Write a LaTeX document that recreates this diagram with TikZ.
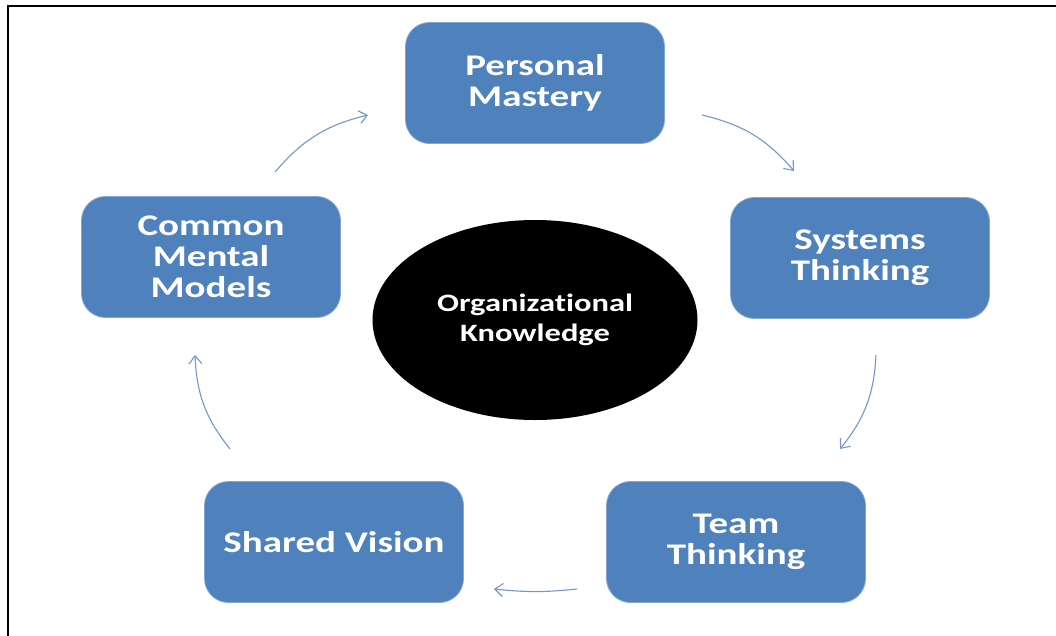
\documentclass[tikz,border=0pt]{standalone}
\usepackage{fontspec}
\setmainfont[FakeStretch=1.3,Ligatures=NoCommon]{Carlito}
\usetikzlibrary{shapes.geometric,arrows.meta}
\definecolor{boxblue}{HTML}{4F81BD}
\definecolor{arrowblue}{HTML}{7397CC}
\begin{document}
\begin{tikzpicture}[x=1pt,y=1pt,
  stagebox/.style={rectangle, rounded corners=24pt, fill=boxblue, draw=boxblue!70!white, line width=0.8pt,
    minimum width=259pt, minimum height=121pt, align=center, text=white,
    font=\fontsize{30}{31}\selectfont\bfseries},
  core/.style={ellipse, fill=black, minimum width=325pt, minimum height=200pt, align=center, text=white,
    font=\fontsize{25}{30}\selectfont\bfseries},
  cyc/.style={draw=arrowblue, line width=1.1pt, -{Straight Barb[length=8pt,width=13pt,line width=1.1pt]}, bend left=#1},
  cyc/.default=18]
\useasboundingbox (0,0) rectangle (1056,-635);
\fill[white] (0,0) rectangle (1056,-635);
\draw[line width=2.4pt] (8,-660) -- (8,-6) -- (1080,-6);

\node[stagebox] (pm) at (535,-83) {Personal\\Mastery};
\node[stagebox] (st) at (860,-258) {Systems\\Thinking};
\node[stagebox] (tt) at (736,-542) {Team\\Thinking};
\node[stagebox] (sv) at (334,-542) {Shared Vision};
\node[stagebox] (cm) at (211,-257) {Common\\Mental\\Models};
\node[core] (ok) at (535,-320) {Organizational\\Knowledge};

\coordinate (a1s) at (275,-172); \coordinate (a1e) at (368,-115);
\coordinate (a2s) at (702,-115); \coordinate (a2e) at (794,-171);
\coordinate (a3s) at (876,-355); \coordinate (a3e) at (840,-449);
\coordinate (a4s) at (577,-589); \coordinate (a4e) at (494,-589);
\coordinate (a5s) at (230,-449); \coordinate (a5e) at (195,-355);

\draw[cyc] (a1s) to (a1e);
\draw[cyc] (a2s) to (a2e);
\draw[cyc] (a3s) to (a3e);
\draw[cyc=6] (a4s) to (a4e);
\draw[cyc] (a5s) to (a5e);
\end{tikzpicture}
\end{document}
